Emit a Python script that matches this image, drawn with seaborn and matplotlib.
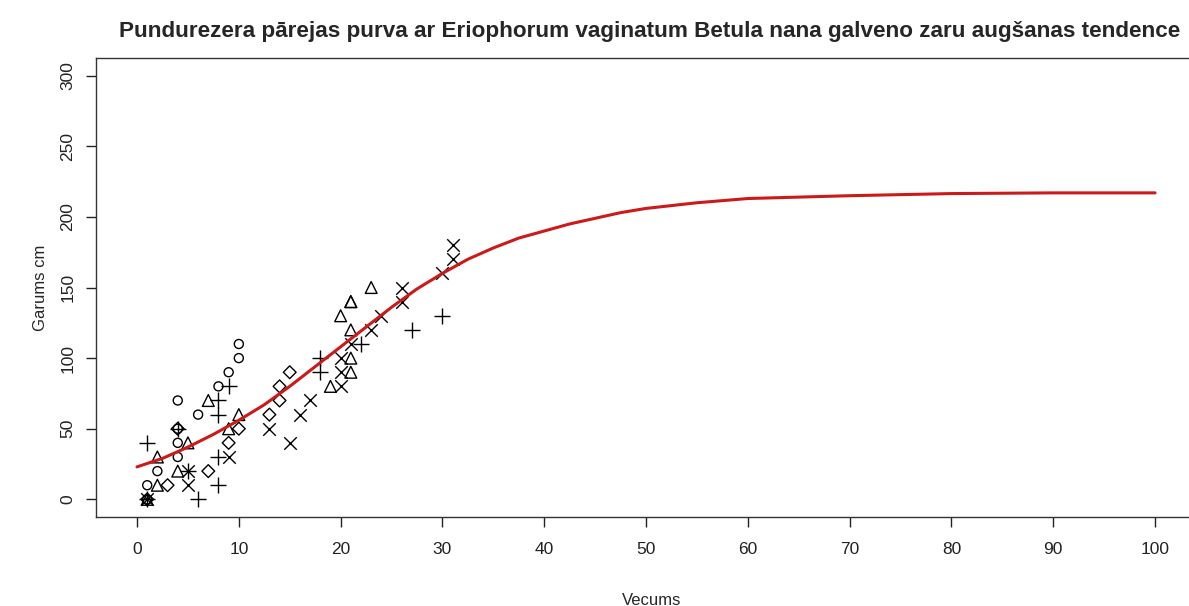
import numpy as np
import pandas as pd
import matplotlib
matplotlib.use("Agg")
import matplotlib.pyplot as plt
import seaborn as sns

# observed branch lengths, grouped by plotting symbol
circle_age = [1, 1, 2, 4, 4, 4, 6, 4, 8, 9, 10, 10]
circle_len = [0, 10, 20, 30, 40, 50, 60, 70, 80, 90, 100, 110]

triangle_age = [1, 2, 4, 2, 5, 9, 10, 7, 19, 21, 21, 21, 21, 20, 21, 23]
triangle_len = [0, 10, 20, 30, 40, 50, 60, 70, 80, 90, 100, 120, 140, 130, 140, 150]

plus_age = [1, 6, 8, 5, 8, 1, 4, 8, 8, 9, 18, 18, 22, 27, 30]
plus_len = [0, 0, 10, 20, 30, 40, 50, 60, 70, 80, 90, 100, 110, 120, 130]

cross_age = [1, 5, 5, 9, 15, 13, 16, 17, 20, 20, 20, 21, 23, 24, 26, 26, 30, 31, 31]
cross_len = [0, 10, 20, 30, 40, 50, 60, 70, 80, 90, 100, 110, 120, 130, 140, 150, 160, 170, 180]

diamond_age = [1, 3, 7, 9, 4, 10, 13, 14, 14, 15]
diamond_len = [0, 10, 20, 40, 50, 50, 60, 70, 80, 90]

# growth trend curve
trend_age = [0, 2.5, 5, 7.5, 10, 12.5, 15, 17.5, 20, 22.5, 25, 27.5, 30, 32.5, 35,
             37.5, 40, 42.5, 45, 47.5, 50, 55, 60, 70, 80, 90, 100]
trend_len = [23, 29, 37, 46, 56, 67, 80, 94, 108, 122, 136, 149, 160, 170, 178,
             185, 190, 195, 199, 203, 206, 210, 213, 215, 216.5, 217, 217]

x_ticks = list(range(0, 101, 10))
y_ticks = list(range(0, 301, 50))

sns.set_style("ticks")
plt.rcParams["font.family"] = ["Liberation Sans", "DejaVu Sans"]

fig = plt.figure(figsize=(11.89, 6.06), dpi=100)
ax = fig.add_axes([96 / 1189, 89 / 606, 1112 / 1189, 459 / 606])

groups = [
    (circle_age, circle_len, "o", 6.5),
    (triangle_age, triangle_len, "^", 8.5),
    (diamond_age, diamond_len, "D", 6.5),
]
for age, length, mk, ms in groups:
    sns.scatterplot(x=age, y=length, marker=mk, s=ms ** 2, facecolors="none",
                    edgecolor="black", linewidth=1.0, ax=ax, zorder=3)

for age, length, mk, ms in [(plus_age, plus_len, "+", 12), (cross_age, cross_len, "x", 9)]:
    sns.scatterplot(x=age, y=length, marker=mk, s=ms ** 2, color="black",
                    linewidth=1.0, ax=ax, zorder=3)

trend = pd.DataFrame({"age": trend_age, "len": trend_len})
sns.lineplot(data=trend, x="age", y="len", color="#cc1a1a", linewidth=2.2, ax=ax, zorder=4)

ax.set_xlim(-4.03, 105.2)
ax.set_ylim(-12.5, 312.5)
ax.set_xticks(x_ticks)
ax.set_yticks(y_ticks)
ax.tick_params(axis="both", direction="out", length=7, width=1, colors="#222222",
               labelsize=12.5)
ax.tick_params(axis="x", pad=11)
ax.tick_params(axis="y", labelrotation=90, pad=8)
for lbl in ax.get_yticklabels():
    lbl.set_va("center")

for sp in ax.spines.values():
    sp.set_color("#333333")
    sp.set_linewidth(1.0)
ax.spines["right"].set_visible(False)

ax.set_xlabel("Vecums", fontsize=12, labelpad=26)
ax.set_ylabel("Garums cm", fontsize=12, labelpad=9)
ax.set_title("Pundurezera pārejas purva ar Eriophorum vaginatum Betula nana galveno zaru augšanas tendence",
             fontsize=16.2, fontweight="bold", pad=15, x=(650 - 96) / 1112)

fig.savefig("out.png", dpi=100)
